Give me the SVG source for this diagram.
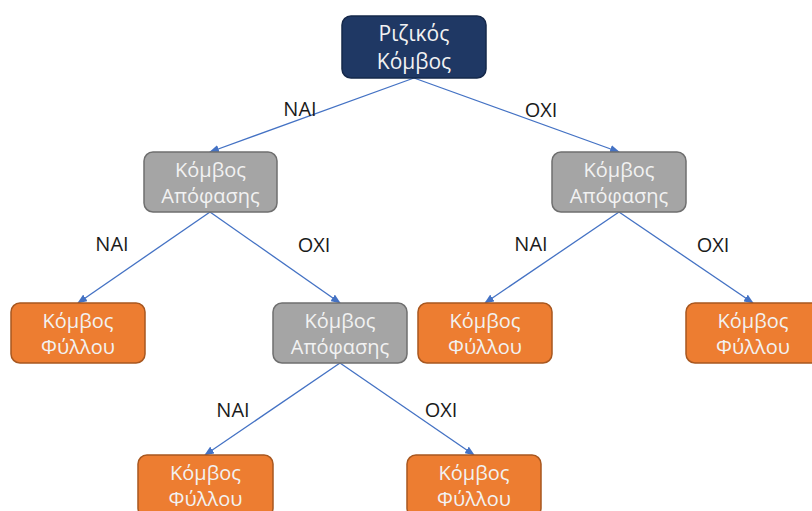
<svg xmlns="http://www.w3.org/2000/svg" width="812" height="511" viewBox="0 0 812 511">
<style>
.root{fill:#1f3864;stroke:#15284a;stroke-width:1.5}
.dec{fill:#a5a5a5;stroke:#6f6f6f;stroke-width:1.5}
.leaf{fill:#ed7d31;stroke:#a8571f;stroke-width:1.5}
.nt{font-family:"Open Sans","Noto Sans",sans-serif;font-size:20px;fill:#f2f2f2;text-anchor:middle}
.rt{font-size:21px}
.lbl{font-family:"Open Sans","Noto Sans",sans-serif;font-size:20px;fill:#1a1a1a;text-anchor:middle}
.edge{stroke:#4472c4;stroke-width:1.3;fill:none;marker-end:url(#ah)}
</style>
<defs>
<marker id="ah" markerWidth="10" markerHeight="8" refX="9" refY="4" orient="auto" markerUnits="userSpaceOnUse">
<path d="M0,0 L10,4 L0,8 z" fill="#4472c4"/>
</marker>
</defs>
<rect width="812" height="511" fill="#ffffff"/>
<g id="connectors">
<line class="edge" x1="414" y1="78" x2="210" y2="152"/>
<line class="edge" x1="414" y1="78" x2="619" y2="152"/>
<line class="edge" x1="210" y1="212" x2="78" y2="303"/>
<line class="edge" x1="210" y1="212" x2="340" y2="303"/>
<line class="edge" x1="619" y1="212" x2="485" y2="303"/>
<line class="edge" x1="619" y1="212" x2="753" y2="303"/>
<line class="edge" x1="340" y1="363" x2="205" y2="455"/>
<line class="edge" x1="340" y1="363" x2="474" y2="455"/>
</g>
<g id="labels">
<text class="lbl" x="300" y="116">NAI</text>
<text class="lbl" x="541" y="117">OXI</text>
<text class="lbl" x="112" y="251">NAI</text>
<text class="lbl" x="314" y="252">OXI</text>
<text class="lbl" x="531" y="251">NAI</text>
<text class="lbl" x="713" y="252">OXI</text>
<text class="lbl" x="233" y="417">NAI</text>
<text class="lbl" x="441" y="417">OXI</text>
</g>
<g id="root">
<rect class="root" x="342" y="16" width="144" height="62" rx="9"/>
<text class="nt rt" x="414" y="41">Ριζικός</text>
<text class="nt rt" x="414" y="69">Κόμβος</text>
</g>
<g id="dec1">
<rect class="dec" x="144" y="152" width="133" height="60" rx="9"/>
<text class="nt" x="210.5" y="177">Κόμβος</text>
<text class="nt" x="210.5" y="203">Απόφασης</text>
</g>
<g id="dec2">
<rect class="dec" x="552" y="152" width="134" height="60" rx="9"/>
<text class="nt" x="619" y="177">Κόμβος</text>
<text class="nt" x="619" y="203">Απόφασης</text>
</g>
<g id="dec3">
<rect class="dec" x="273" y="303" width="134" height="60" rx="9"/>
<text class="nt" x="340" y="328">Κόμβος</text>
<text class="nt" x="340" y="354">Απόφασης</text>
</g>
<g id="leaf1">
<rect class="leaf" x="11" y="303" width="134" height="60" rx="9"/>
<text class="nt" x="78" y="328">Κόμβος</text>
<text class="nt" x="78" y="354">Φύλλου</text>
</g>
<g id="leaf2">
<rect class="leaf" x="418" y="303" width="134" height="60" rx="9"/>
<text class="nt" x="485" y="328">Κόμβος</text>
<text class="nt" x="485" y="354">Φύλλου</text>
</g>
<g id="leaf3">
<rect class="leaf" x="686" y="303" width="134" height="60" rx="9"/>
<text class="nt" x="753" y="328">Κόμβος</text>
<text class="nt" x="753" y="354">Φύλλου</text>
</g>
<g id="leaf4">
<rect class="leaf" x="138" y="455" width="135" height="62" rx="9"/>
<text class="nt" x="205.5" y="480">Κόμβος</text>
<text class="nt" x="205.5" y="506">Φύλλου</text>
</g>
<g id="leaf5">
<rect class="leaf" x="407" y="455" width="134" height="62" rx="9"/>
<text class="nt" x="474" y="480">Κόμβος</text>
<text class="nt" x="474" y="506">Φύλλου</text>
</g>
</svg>
